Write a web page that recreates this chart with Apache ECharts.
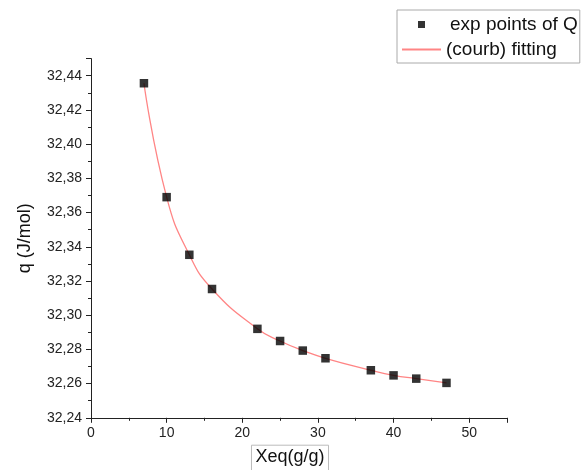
<!DOCTYPE html>
<html>
<head>
<meta charset="utf-8">
<script src="https://cdn.jsdelivr.net/npm/echarts@6/dist/echarts.min.js"></script>
<style>html,body{margin:0;padding:0;background:#fff}#c{width:586px;height:470px}</style>
</head>
<body>
<div id="c"></div>
<script>
var xValues = [7, 10, 13, 16, 22, 25, 28, 31, 37, 40, 43, 47];
var qValues = [32.4356, 32.369, 32.3353, 32.3153, 32.292, 32.2849, 32.2793, 32.2748, 32.2678, 32.2648, 32.2629, 32.2604];
var seriesNames = ['exp points of Q', '(courb) fitting'];
var xAxisTitle = 'Xeq(g/g)';
var yAxisTitle = 'q (J/mol)';

var pts = xValues.map(function (x, i) { return [x, qValues[i]]; });
var FONT = '"Liberation Sans", Arial, sans-serif';

var chart = echarts.init(document.getElementById('c'), null, {renderer: 'canvas'});
chart.setOption({
  animation: false,
  backgroundColor: '#fff',
  grid: {left: 91, right: 79, top: 58.6, bottom: 52.2, containLabel: false, outerBoundsMode: 'none'},
  legend: {
    orient: 'vertical',
    left: 397, top: 10,
    padding: [5, 2, 4, 4],
    itemGap: 6,
    itemWidth: 39, itemHeight: 7,
    borderColor: '#aaa', borderWidth: 1,
    textStyle: {fontFamily: FONT, fontSize: 19, color: '#111'},
    data: [
      {name: seriesNames[0], icon: 'path://M0,0h10v10h-10z', textStyle: {padding: [0, 0, 0, 4]}},
      {name: seriesNames[1], itemStyle: {opacity: 0}}
    ],
    symbolKeepAspect: true
  },
  xAxis: {
    type: 'value', min: 0, max: 55, interval: 10,
    name: '{a|' + xAxisTitle + '}{s|}', nameLocation: 'middle', nameGap: 26,
    nameTextStyle: {
      fontFamily: FONT, fontSize: 18, color: '#111',
      rich: {
        a: {fontFamily: FONT, fontSize: 18, color: '#111', borderColor: '#bbb', borderWidth: 1, padding: [3, 4, 6, 4]},
        s: {width: 18}
      }
    },
    axisLine: {lineStyle: {color: '#222', width: 1}},
    axisTick: {inside: false, length: 5, lineStyle: {color: '#222'}},
    minorTick: {show: true, splitNumber: 2, length: 3, lineStyle: {color: '#222'}},
    axisLabel: {fontFamily: FONT, fontSize: 14, color: '#222', margin: 8, showMaxLabel: false},
    splitLine: {show: false}
  },
  yAxis: {
    type: 'value', min: 32.24, max: 32.45, interval: 0.02,
    name: yAxisTitle, nameLocation: 'middle', nameRotate: 90, nameGap: 57,
    nameTextStyle: {fontFamily: FONT, fontSize: 18, color: '#111'},
    axisLine: {lineStyle: {color: '#222', width: 1}},
    axisTick: {inside: false, length: 5, lineStyle: {color: '#222'}},
    minorTick: {show: true, splitNumber: 2, length: 3, lineStyle: {color: '#222'}},
    axisLabel: {fontFamily: FONT, fontSize: 14, color: '#222', margin: 9, showMaxLabel: false,
      formatter: function (v) { return v.toFixed(2).replace('.', ','); }},
    splitLine: {show: false}
  },
  series: [
    {
      name: seriesNames[0], type: 'scatter', data: pts,
      symbol: 'rect', symbolSize: 8.5, z: 3,
      itemStyle: {color: '#000'}
    },
    {
      name: seriesNames[1], type: 'line', data: pts,
      smooth: 0.5, showSymbol: false, symbol: 'none', z: 2,
      itemStyle: {color: '#ff8585'},
      lineStyle: {color: '#ff8585', width: 1.3}
    }
  ]
});
</script>
</body>
</html>
